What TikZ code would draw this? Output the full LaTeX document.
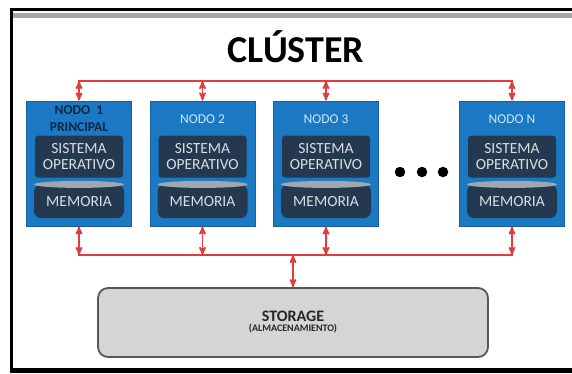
\documentclass[tikz,border=0pt]{standalone}
\usepackage{fontspec}
\setmainfont{Carlito}
\usetikzlibrary{arrows}
\usetikzlibrary{positioning}

\definecolor{nodeblue}{RGB}{27,121,196}
\definecolor{nodeedge}{RGB}{22,96,160}
\definecolor{darkbox}{RGB}{36,56,80}
\definecolor{memgray}{RGB}{160,167,174}
\definecolor{busred}{RGB}{228,60,60}
\definecolor{storegray}{RGB}{212,214,214}
\definecolor{storeedge}{RGB}{85,88,90}
\definecolor{navy}{RGB}{12,38,72}
\definecolor{palelabel}{RGB}{205,230,248}
\definecolor{paletext}{RGB}{215,222,230}

\begin{document}
\begin{tikzpicture}[x=1pt,y=-1pt,>=stealth',node distance=123.5pt,
    main node/.style={rectangle,draw=nodeedge,line width=1pt,fill=nodeblue,minimum width=105pt,minimum height=125pt},
    head/.style={inner sep=0pt,text=palelabel,font=\fontsize{13.5}{14}\selectfont},
    so box/.style={rectangle,rounded corners=3pt,fill=darkbox,text=paletext,minimum width=88pt,minimum height=42pt,
                   inner sep=0pt,align=center,font=\fontsize{15.5}{16}\selectfont},
    mem box/.style={rectangle,rounded corners=7pt,fill=darkbox,text=paletext,minimum width=90pt,minimum height=33.5pt,
                    inner sep=0pt,font=\fontsize{15.5}{16}\selectfont},
    store/.style={rectangle,rounded corners=10pt,draw=storeedge,line width=1.8pt,fill=storegray,text=black!85,
                  minimum width=390pt,minimum height=69pt,align=center,font=\bfseries},
    dot/.style={circle,fill=black,minimum size=10.5pt,inner sep=0pt},
    bus/.style={draw=busred,line width=1.7pt},
    link/.style={bus,<->}]

  \useasboundingbox (0,0) rectangle (572,373);

  % frame
  \fill[black!35] (13,12.5) rectangle (572,18);
  \draw[line width=3pt] (572,9.5) -- (11.5,9.5) -- (11.5,369);
  \fill (10,368) rectangle (572,373);

  \node[font=\fontsize{38}{40}\selectfont\bfseries,anchor=base] (title) at (296,62) {CLÚSTER};

  % nodes
  \node[main node] (n1) at (79,163.5) {};
  \node[main node] (n2) [right of=n1] {};
  \node[main node] (n3) [right of=n2] {};
  \node[main node] (nN) at (512,163.5) {};

  \node[head,text=navy,font=\fontsize{13.5}{16.5}\selectfont\bfseries,align=center,below=5pt of n1.north] (h1) {NODO\ \ 1\\PRINCIPAL};
  \node[head,below=14pt of n2.north] (h2) {NODO 2};
  \node[head,below=14pt of n3.north] (h3) {NODO 3};
  \node[head,below=14pt of nN.north] (hN) {NODO N};

  \foreach \i in {1,2,3,N} {
    \node[so box,below=35pt of n\i.north] (so\i) {SISTEMA\\OPERATIVO};
    \node[mem box,below=6.5pt of so\i] (mem\i) {MEMORIA};
    \fill[memgray] (mem\i.north) ellipse (45pt and 3.5pt);
  }

  \foreach \x [count=\k] in {400,422,443}
    \node[dot] (dot\k) at (\x,172) {};

  \node[store] (storage) at (293,322.5)
    {{\fontsize{16}{17}\selectfont STORAGE}\\[-2pt]{\fontsize{10}{11}\selectfont (ALMACENAMIENTO)}};

  % buses
  \coordinate (topbus) at (0,81);
  \coordinate (lowbus) at (0,255);
  \draw[bus,line cap=rect] (n1.north |- topbus) -- (nN.north |- topbus);
  \draw[bus,line cap=rect] (n1.south |- lowbus) -- (nN.south |- lowbus);
  \foreach \i in {1,2,3,N} {
    \draw[link] (n\i.north |- topbus) -- (n\i.north);
    \draw[link] (n\i.south) -- (n\i.south |- lowbus);
  }
  \draw[link] (storage.north |- lowbus) -- (storage.north);

\end{tikzpicture}
\end{document}
